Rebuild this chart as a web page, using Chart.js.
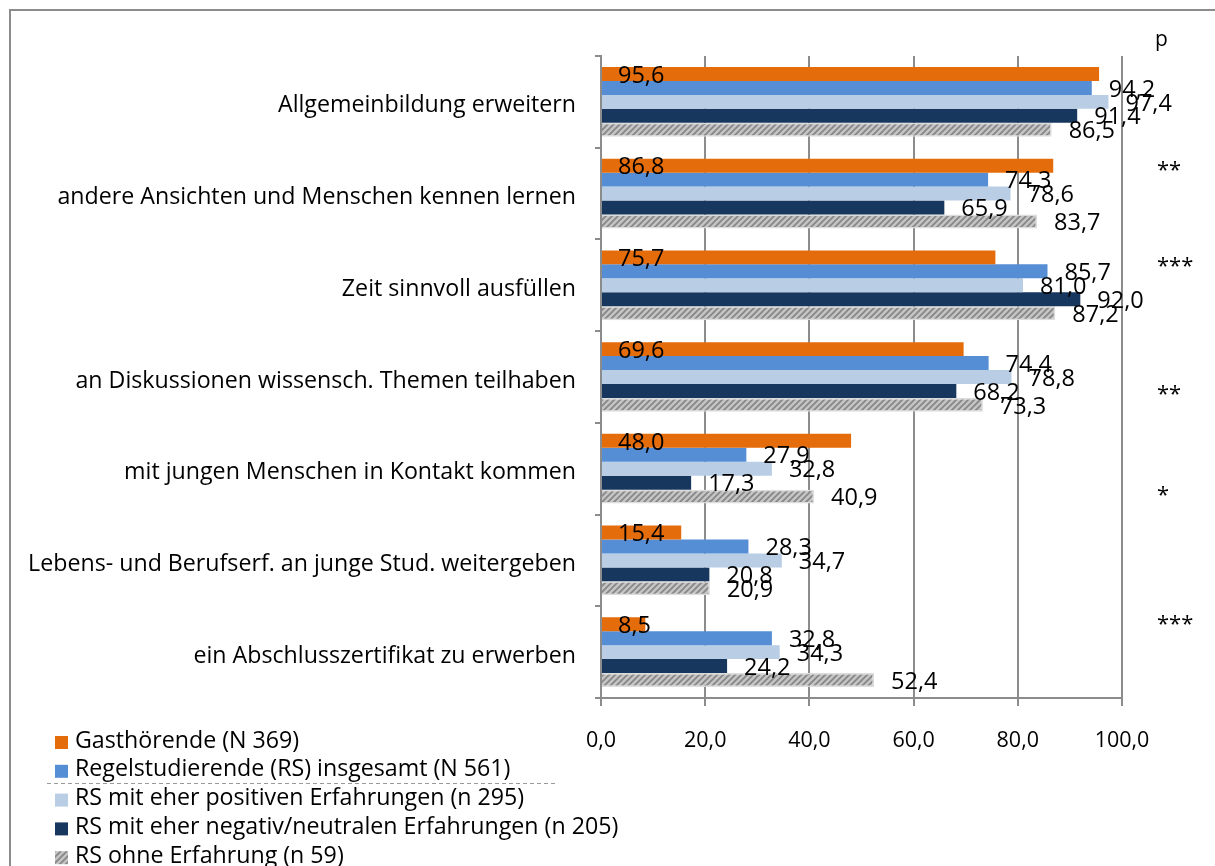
<!DOCTYPE html>
<html>
<head>
<meta charset="utf-8">
<script src="https://cdn.jsdelivr.net/npm/chart.js@4"></script>
<style>
  html, body { margin: 0; padding: 0; background: #fff; }
  #myChart { display: block; }
</style>
</head>
<body>
<canvas id="myChart" width="1215" height="866"></canvas>
<script>
// Motive fuer den Besuch von Lehrveranstaltungen (Angaben in %)
var categories = [
  'Allgemeinbildung erweitern',
  'andere Ansichten und Menschen kennen lernen',
  'Zeit sinnvoll ausfüllen',
  'an Diskussionen wissensch. Themen teilhaben',
  'mit jungen Menschen in Kontakt kommen',
  'Lebens- und Berufserf. an junge Stud. weitergeben',
  'ein Abschlusszertifikat zu erwerben'
];
var gasthoerende = [95.6, 86.8, 75.7, 69.6, 48.0, 15.4, 8.5];
var rsGesamt     = [94.2, 74.3, 85.7, 74.4, 27.9, 28.3, 32.8];
var rsPositiv    = [97.4, 78.6, 81.0, 78.8, 32.8, 34.7, 34.3];
var rsNegativ    = [91.4, 65.9, 92.0, 68.2, 17.3, 20.8, 24.2];
var rsOhne       = [86.5, 83.7, 87.2, 73.3, 40.9, 20.9, 52.4];
var seriesNames = [
  'Gasthörende (N 369)',
  'Regelstudierende (RS) insgesamt (N 561)',
  'RS mit eher positiven Erfahrungen (n 295)',
  'RS mit eher negativ/neutralen Erfahrungen (n 205)',
  'RS ohne Erfahrung (n 59)'
];
var significance = ['', '**', '***', '**', '*', '', '***'];
var pHeader = 'p';

const ctx = document.getElementById('myChart');
const c2d = ctx.getContext('2d');
Chart.defaults.font.family = '"Open Sans"';
Chart.defaults.color = '#000';

// grey bar with diagonal stripes
function makeHatch() {
  var pc = document.createElement('canvas');
  pc.width = 6; pc.height = 6;
  var g = pc.getContext('2d');
  g.fillStyle = '#c4c4c4';
  g.fillRect(0, 0, 6, 6);
  g.strokeStyle = '#858585';
  g.lineWidth = 1.6;
  g.beginPath();
  g.moveTo(-1, 7); g.lineTo(7, -1);
  g.moveTo(-4, 4); g.lineTo(4, -4);
  g.moveTo(2, 10); g.lineTo(10, 2);
  g.stroke();
  return c2d.createPattern(pc, 'repeat');
}
var hatch = makeHatch();

function fmt(v) {
  return v.toFixed(1).replace('.', ',');
}

// value labels: first series sits at the bar base, the rest right of the bar end
const valueLabels = {
  id: 'valueLabels',
  afterDatasetsDraw(chart) {
    var g = chart.ctx;
    g.save();
    g.font = '23.5px "Open Sans"';
    g.fillStyle = '#000';
    g.textBaseline = 'middle';
    g.textAlign = 'left';
    chart.data.datasets.forEach(function (ds, i) {
      var meta = chart.getDatasetMeta(i);
      meta.data.forEach(function (bar, j) {
        var x = i === 0 ? bar.base + 16 : bar.x + 17;
        g.fillText(fmt(ds.data[j]), x, bar.y + 2);
      });
    });
    g.restore();
  }
};

// frame, p column and the legend block under the chart
const extras = {
  id: 'extras',
  afterDraw(chart) {
    var g = chart.ctx;
    var yScale = chart.scales.y;
    g.save();

    g.strokeStyle = '#8c8c8c';
    g.lineWidth = 2;
    g.beginPath();
    g.moveTo(10, 866);
    g.lineTo(10, 10);
    g.lineTo(1215, 10);
    g.stroke();

    g.fillStyle = '#000';
    g.font = '21px "Open Sans"';
    g.textBaseline = 'middle';
    g.textAlign = 'left';
    g.fillText(pHeader, 1155, 40);

    // stars sit a bit above or below the category centre
    var sigShift = [0, -29, -24, 12, 21, 0, -33];
    g.textBaseline = 'alphabetic';
    g.font = '22px "Open Sans"';
    significance.forEach(function (s, i) {
      if (!s) return;
      var cy = yScale.getPixelForValue(i) + sigShift[i];
      g.fillText(s, 1157, cy + 12);
    });

    g.textBaseline = 'middle';
    g.font = '23.2px "Open Sans"';
    chart.data.datasets.forEach(function (ds, i) {
      var cy = 741 + i * 28.8;
      g.fillStyle = ds.backgroundColor;
      g.fillRect(55, cy - 5, 13, 13);
      g.fillStyle = '#000';
      g.fillText(ds.label, 75, cy);
    });

    g.strokeStyle = '#9a9a9a';
    g.lineWidth = 1;
    g.setLineDash([4, 3]);
    g.beginPath();
    g.moveTo(47, 783.5);
    g.lineTo(557, 783.5);
    g.stroke();

    g.restore();
  }
};

var graphData = {
  type: 'bar',
  data: {
    labels: categories,
    datasets: [
      { label: seriesNames[0], data: gasthoerende, backgroundColor: '#e46c0a' },
      { label: seriesNames[1], data: rsGesamt, backgroundColor: '#558ed5' },
      { label: seriesNames[2], data: rsPositiv, backgroundColor: '#b9cde5' },
      { label: seriesNames[3], data: rsNegativ, backgroundColor: '#17375e' },
      { label: seriesNames[4], data: rsOhne, backgroundColor: hatch,
        borderColor: '#dcdcdc', borderWidth: 1.5 }
    ]
  },
  options: {
    indexAxis: 'y',
    responsive: false,
    animation: false,
    categoryPercentage: 0.76,
    barPercentage: 1,
    layout: { padding: { top: 56, right: 93, bottom: 0, left: 0 } },
    plugins: {
      legend: { display: false },
      tooltip: { enabled: false }
    },
    scales: {
      x: {
        min: 0,
        max: 100,
        ticks: {
          stepSize: 20,
          font: { size: 21.5 },
          color: '#000',
          padding: 22,
          callback: function (v) { return fmt(v); }
        },
        grid: { color: '#8c8c8c', lineWidth: 2, tickLength: 8 },
        border: { color: '#8c8c8c', width: 2 },
        afterFit: function (scale) { scale.height = 168; }
      },
      y: {
        ticks: { font: { size: 23.2 }, color: '#000', padding: 19, labelOffset: 4 },
        grid: { drawOnChartArea: false, color: '#8c8c8c', lineWidth: 2, tickLength: 6 },
        border: { color: '#8c8c8c', width: 2 },
        afterFit: function (scale) { scale.width = 601; }
      }
    }
  },
  plugins: [valueLabels, extras]
};

var myChart = new Chart(ctx, graphData);
</script>
</body>
</html>
